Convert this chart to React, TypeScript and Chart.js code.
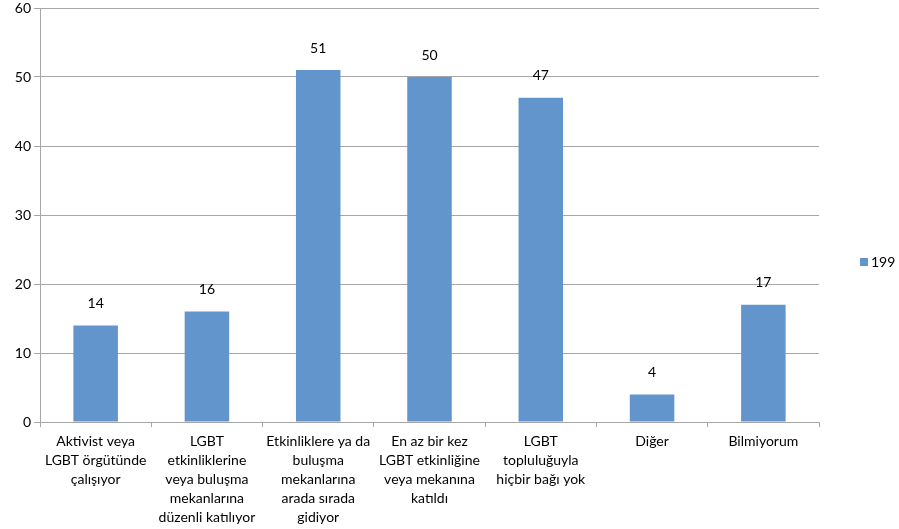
import React, { useEffect, useRef } from "react";
import { Chart, registerables } from "chart.js";

Chart.register(...registerables);

const categories: string[][] = [
  ["Aktivist veya", "LGBT örgütünde", "çalışıyor"],
  ["LGBT", "etkinliklerine", "veya buluşma", "mekanlarına", "düzenli katılıyor"],
  ["Etkinliklere ya da", "buluşma", "mekanlarına", "arada sırada", "gidiyor"],
  ["En az bir kez", "LGBT etkinliğine", "veya mekanına", "katıldı"],
  ["LGBT", "topluluğuyla", "hiçbir bağı yok"],
  ["Diğer"],
  ["Bilmiyorum"],
];
const seriesLabel = "199";
const seriesValues: number[] = [14, 16, 51, 50, 47, 4, 17];
const yTicks: number[] = [0, 10, 20, 30, 40, 50, 60];

const FONT = "Lato, 'Open Sans', sans-serif";
const BAR = "#6195CB";
const GRID = "#A6A6A6";

const valueLabels = {
  id: "valueLabels",
  afterDatasetsDraw(chart: any) {
    const ctx = chart.ctx;
    const meta = chart.getDatasetMeta(0);
    ctx.save();
    ctx.font = `14px ${FONT}`;
    ctx.fillStyle = "#000";
    ctx.textAlign = "center";
    ctx.textBaseline = "middle";
    meta.data.forEach((el: any, i: number) => {
      ctx.fillText(String(chart.data.datasets[0].data[i]), el.x, el.y - 22);
    });
    ctx.restore();
  },
};

const sideLegend = {
  id: "sideLegend",
  afterDraw(chart: any) {
    const ctx = chart.ctx;
    const ds = chart.data.datasets[0];
    const y = (chart.chartArea.top + chart.chartArea.bottom) / 2 + 47;
    ctx.save();
    ctx.fillStyle = ds.backgroundColor;
    ctx.fillRect(860, y - 4, 8, 8);
    ctx.font = `14px ${FONT}`;
    ctx.fillStyle = "#000";
    ctx.textAlign = "left";
    ctx.textBaseline = "middle";
    ctx.fillText(ds.label, 871, y);
    ctx.restore();
  },
};

export default function App() {
  const ref = useRef<HTMLCanvasElement>(null);
  useEffect(() => {
    if (!ref.current) return;
    const chart = new Chart(ref.current, {
      type: "bar",
      data: {
        labels: categories,
        datasets: [
          {
            label: seriesLabel,
            data: seriesValues,
            backgroundColor: BAR,
            barPercentage: 0.4,
            categoryPercentage: 1,
          },
        ],
      },
      options: {
        animation: false,
        responsive: false,
        layout: { padding: { top: 8, right: 80, left: 0, bottom: 0 } },
        plugins: {
          legend: { display: false },
          tooltip: { enabled: false },
        },
        scales: {
          x: {
            grid: {
              offset: true,
              drawOnChartArea: false,
              drawTicks: true,
              tickLength: 5,
              color: GRID,
            },
            border: { color: GRID },
            ticks: {
              color: "#000",
              font: { family: FONT, size: 14, lineHeight: 1.35 },
              padding: 5,
              maxRotation: 0,
              autoSkip: false,
            },
            afterFit: (s: any) => {
              s.height = 107;
            },
          },
          y: {
            min: 0,
            max: 60,
            afterBuildTicks: (s: any) => {
              s.ticks = yTicks.map((v) => ({ value: v }));
            },
            grid: { color: GRID, tickLength: 6 },
            border: { color: GRID },
            ticks: {
              color: "#000",
              font: { family: FONT, size: 14, lineHeight: 0.5 },
              padding: 3,
            },
            afterFit: (s: any) => {
              s.width = 40;
            },
          },
        },
      },
      plugins: [valueLabels, sideLegend],
    });
    return () => chart.destroy();
  }, []);
  return (
    <div style={{ position: "fixed", left: 0, top: 0, width: 899, height: 529, background: "#fff" }}>
      <canvas ref={ref} width={899} height={529} style={{ width: 899, height: 529 }} />
    </div>
  );
}
